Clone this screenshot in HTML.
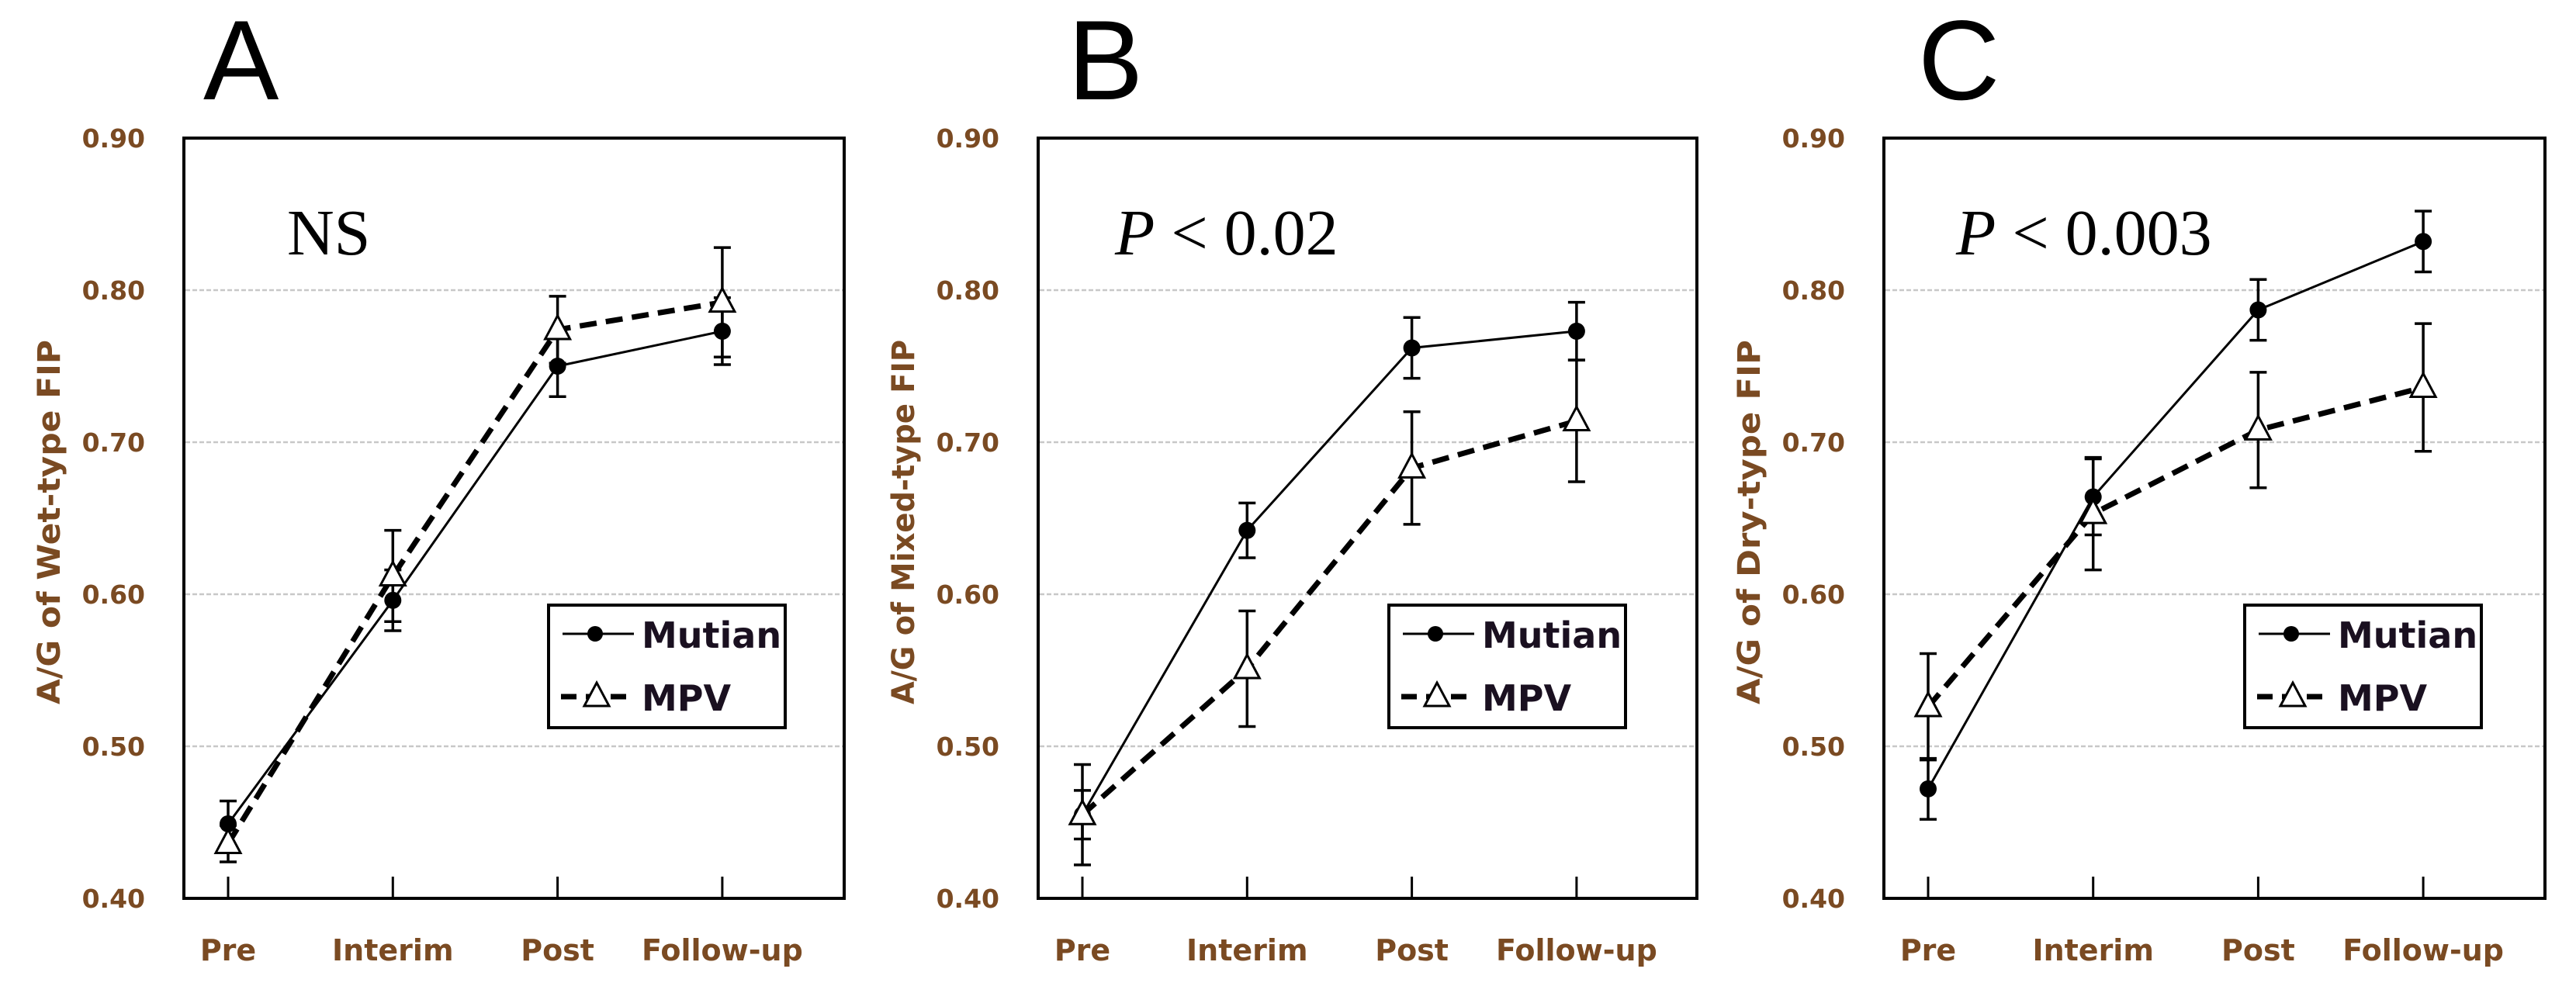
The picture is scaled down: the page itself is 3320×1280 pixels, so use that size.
<!DOCTYPE html>
<html><head><meta charset="utf-8"><style>
html,body{margin:0;padding:0;background:#fff;}
svg{display:block;}
</style></head><body>
<svg id="fig" width="3320" height="1280" viewBox="0 0 3320 1280" xmlns="http://www.w3.org/2000/svg"></svg>
<script>
const categories = ["Pre","Interim","Post","Follow-up"];
const yTicks = [0.40,0.50,0.60,0.70,0.80,0.90];
const yTickLabels = ["0.40","0.50","0.60","0.70","0.80","0.90"];
const panelLetters = ["A","B","C"];
const panelTitles = ["A/G of Wet-type FIP","A/G of Mixed-type FIP","A/G of Dry-type FIP"];
const panelStats = ["NS","P < 0.02","P < 0.003"];
const mutianA = [0.449,0.596,0.750,0.773];
const mutianAErr = [0.015,0.020,0.020,0.022];
const mpvA = [0.436,0.612,0.774,0.792];
const mpvAErr = [0.012,0.030,0.022,0.036];
const mutianB = [0.455,0.642,0.762,0.773];
const mutianBErr = [0.016,0.018,0.020,0.019];
const mpvB = [0.455,0.551,0.683,0.714];
const mpvBErr = [0.033,0.038,0.037,0.040];
const mutianC = [0.472,0.664,0.787,0.832];
const mutianCErr = [0.020,0.025,0.020,0.020];
const mpvC = [0.526,0.653,0.708,0.736];
const mpvCErr = [0.035,0.037,0.038,0.042];

const SVGNS = "http://www.w3.org/2000/svg";
const svgRoot = document.getElementById('fig');
function mk(tag, attrs, parent){
  const e = document.createElementNS(SVGNS, tag);
  for (const k in attrs) e.setAttribute(k, attrs[k]);
  (parent||svgRoot).appendChild(e);
  return e;
}
const panels = [
  {left:237, right:1088, x0:294, dx:212.3, mut:mutianA, mutE:mutianAErr, mpv:mpvA, mpvE:mpvAErr, letterX:262, statX:370, legX:707},
  {left:1338, right:2187, x0:1395, dx:212.3, mut:mutianB, mutE:mutianBErr, mpv:mpvB, mpvE:mpvBErr, letterX:1376, statX:1437, legX:1790},
  {left:2428, right:3280, x0:2485, dx:212.7, mut:mutianC, mutE:mutianCErr, mpv:mpvC, mpvE:mpvCErr, letterX:2472, statX:2521, legX:2893}
];
const plotTop = 178, plotBottom = 1158;
function yScale(v){ return plotBottom - (v-0.40)/(0.90-0.40)*(plotBottom-plotTop); }
const tickColor = "#7a4a22";

panels.forEach((p, pi) => {
  const g = mk('g', {});
  
  
  const xS = i => p.x0 + i*p.dx;

  const letter = mk('text', {x:p.letterX, y:128, 'font-family':'Liberation Sans, sans-serif', 'font-size':146, fill:'#000'}, g);
  letter.textContent = panelLetters[pi];
  
  

  yTicks.forEach((t, ti) => {
    if (ti === 0 || ti === yTicks.length-1) return;
    const gl = mk('line', {x1:p.left+2, x2:p.right-2, y1:yScale(t), y2:yScale(t), stroke:'#c8c8c8', 'stroke-width':2.5, 'stroke-dasharray':'6 3'}, g);
    
    
  });
  yTicks.forEach((t, ti) => {
    const tl = mk('text', {x:p.left-50, y:yScale(t)+12, 'text-anchor':'end', 'font-family':'DejaVu Sans, sans-serif', 'font-weight':'bold', 'font-size':33, fill:tickColor}, g);
    tl.textContent = yTickLabels[ti];
    
    
  });
  const cy = 673, tx = p.left - 160;
  const yt = mk('text', {x:tx, y:cy, transform:`rotate(-90 ${tx} ${cy})`, 'text-anchor':'middle', 'font-family':'DejaVu Sans, sans-serif', 'font-weight':'bold', 'font-size':40, fill:tickColor, textLength:470, lengthAdjust:'spacingAndGlyphs'}, g);
  yt.textContent = panelTitles[pi];
  
  

  categories.forEach((c, i) => {
    const tk = mk('line', {x1:xS(i), x2:xS(i), y1:plotBottom-28, y2:plotBottom, stroke:'#000', 'stroke-width':3}, g);
    
    
    const xl = mk('text', {x:xS(i), y:1238, 'text-anchor':'middle', 'font-family':'DejaVu Sans, sans-serif', 'font-weight':'bold', 'font-size':38, fill:tickColor}, g);
    xl.textContent = c;
    
    
  });

  const box = mk('rect', {x:p.left, y:plotTop, width:p.right-p.left, height:plotBottom-plotTop, fill:'none', stroke:'#000', 'stroke-width':4}, g);
  
  

  const st = mk('text', {x:p.statX, y:328, 'font-family':'Liberation Serif, serif', 'font-size':84, fill:'#000'}, g);
  
  
  const s = panelStats[pi];
  if (s.startsWith('P')) {
    const ts1 = mk('tspan', {'font-style':'italic'}, st); ts1.textContent = 'P';
    const ts2 = mk('tspan', {}, st); ts2.textContent = s.slice(1);
  } else { st.textContent = s; }

  function errBars(vals, errs, name){
    vals.forEach((v, i) => {
      const x = xS(i), y1 = yScale(v+errs[i]), y2 = yScale(v-errs[i]);
      const eg = mk('path', {d:`M${x},${y1}V${y2}M${x-11},${y1}H${x+11}M${x-11},${y2}H${x+11}`, stroke:'#000', 'stroke-width':3.5, fill:'none'}, g);
      
      
    });
  }
  errBars(p.mut, p.mutE, 'mutian');
  errBars(p.mpv, p.mpvE, 'mpv');

  const mutLine = mk('polyline', {points:p.mut.map((v,i)=>xS(i)+','+yScale(v)).join(' '), fill:'none', stroke:'#000', 'stroke-width':3}, g);
  
  
  const mpvLine = mk('polyline', {points:p.mpv.map((v,i)=>xS(i)+','+yScale(v)).join(' '), fill:'none', stroke:'#000', 'stroke-width':7, 'stroke-dasharray':'22 12'}, g);
  
  

  p.mut.forEach((v, i) => {
    const c = mk('circle', {cx:xS(i), cy:yScale(v), r:11, fill:'#000'}, g);
    
    
  });
  p.mpv.forEach((v, i) => {
    const x = xS(i), y = yScale(v);
    const t = mk('polygon', {points:`${x},${y-18} ${x+16},${y+12} ${x-16},${y+12}`, fill:'#fff', stroke:'#000', 'stroke-width':3}, g);
    
    
  });

  const lg = mk('g', {}, g);
  
  
  const lx = p.legX, ly = 780;
  mk('rect', {x:lx, y:ly, width:305, height:158, fill:'#fff', stroke:'#000', 'stroke-width':4}, lg);
  const e1 = mk('g', {}, lg);
  
  
  mk('line', {x1:lx+18, x2:lx+110, y1:ly+37, y2:ly+37, stroke:'#000', 'stroke-width':3}, e1);
  mk('circle', {cx:lx+60, cy:ly+37, r:10, fill:'#000'}, e1);
  const t1 = mk('text', {x:lx+120, y:ly+55, 'font-family':'DejaVu Sans, sans-serif', 'font-weight':'bold', 'font-size':46, fill:'#1a1020'}, e1);
  t1.textContent = 'Mutian';
  const e2 = mk('g', {}, lg);
  
  
  mk('line', {x1:lx+16, x2:lx+110, y1:ly+118, y2:ly+118, stroke:'#000', 'stroke-width':7, 'stroke-dasharray':'20 12'}, e2);
  mk('polygon', {points:`${lx+62},${ly+100} ${lx+78},${ly+130} ${lx+46},${ly+130}`, fill:'#fff', stroke:'#000', 'stroke-width':3}, e2);
  const t2 = mk('text', {x:lx+120, y:ly+136, 'font-family':'DejaVu Sans, sans-serif', 'font-weight':'bold', 'font-size':46, fill:'#1a1020'}, e2);
  t2.textContent = 'MPV';
});
</script>
</body></html>
